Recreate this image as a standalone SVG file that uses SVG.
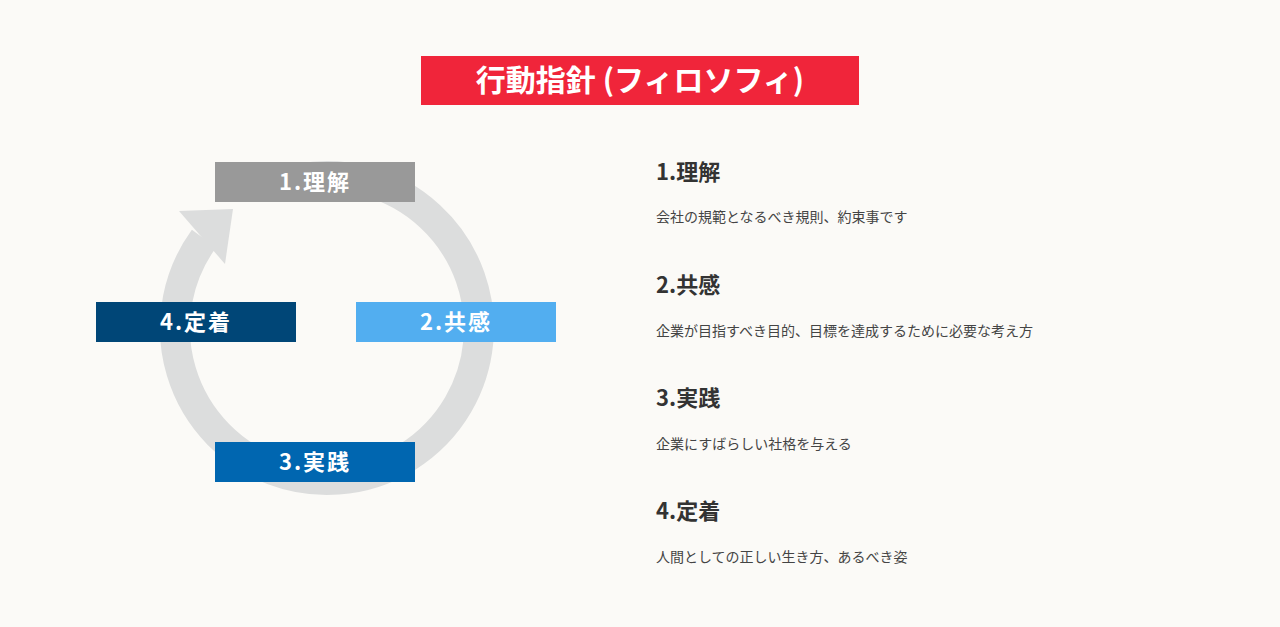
<svg xmlns="http://www.w3.org/2000/svg" width="1280" height="627" viewBox="0 0 1280 627">
<style>
text{font-family:"Noto Sans CJK JP","Noto Sans",sans-serif}
.lb{fill:#fff;font-size:22px;font-weight:bold;letter-spacing:2px;text-anchor:middle}
.h{fill:#333;font-size:22px;font-weight:bold}
.b{fill:#444;font-size:14px}
</style>
<rect width="1280" height="627" fill="#fbfaf7"/>
<g id="title"><rect x="421" y="56" width="438" height="49" fill="#f0253a"/><text x="640" y="91" text-anchor="middle" fill="#fff" font-size="30" font-weight="bold">行動指針 (フィロソフィ)</text></g>
<g id="connectors">
<path d="M300.6 178.3 A152 152 0 1 1 204 238.6" fill="none" stroke="#dcdddd" stroke-width="30"/>
<polygon points="179,211 233,209 225,264" fill="#dcdddd"/>
</g>
<g id="n1"><rect x="215" y="162" width="200" height="40" fill="#999999"/><text class="lb" x="315" y="190">1.理解</text></g>
<g id="n2"><rect x="356" y="302" width="200" height="40" fill="#52aef0"/><text class="lb" x="456" y="330">2.共感</text></g>
<g id="n3"><rect x="215" y="442" width="200" height="40" fill="#0066b0"/><text class="lb" x="315" y="470">3.実践</text></g>
<g id="n4"><rect x="96" y="302" width="200" height="40" fill="#004677"/><text class="lb" x="196" y="330">4.定着</text></g>
<g id="desc">
<text class="h" x="656" y="180">1.理解</text><text class="b" x="656" y="222">会社の規範となるべき規則、約束事です</text>
<text class="h" x="656" y="293">2.共感</text><text class="b" x="656" y="336">企業が目指すべき目的、目標を達成するために必要な考え方</text>
<text class="h" x="656" y="406">3.実践</text><text class="b" x="656" y="449">企業にすばらしい社格を与える</text>
<text class="h" x="656" y="519">4.定着</text><text class="b" x="656" y="562">人間としての正しい生き方、あるべき姿</text>
</g>
</svg>
